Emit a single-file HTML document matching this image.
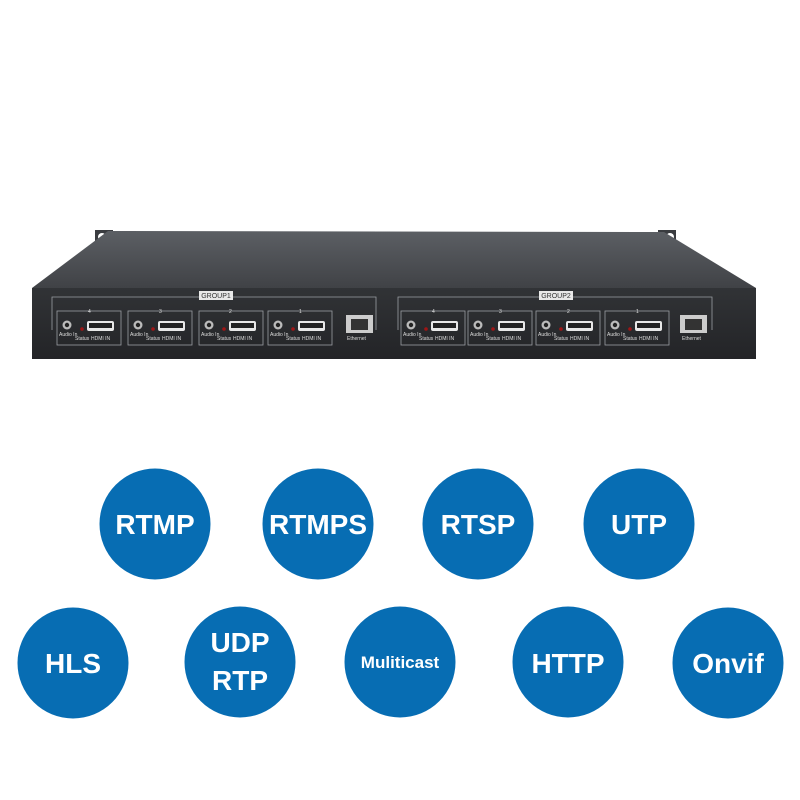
<!DOCTYPE html>
<html><head><meta charset="utf-8"><style>
html,body{margin:0;padding:0;background:#fff}
svg{display:block}
.t{font-family:"Liberation Sans",Arial,sans-serif;font-weight:bold;fill:#fff;text-anchor:middle}
.s{font-family:"Liberation Sans",Arial,sans-serif;fill:#ddd;font-size:5px}
</style></head><body>
<svg width="800" height="800" viewBox="0 0 800 800" xmlns="http://www.w3.org/2000/svg">
<defs>
<linearGradient id="top" x1="0" y1="0" x2="0" y2="1"><stop offset="0" stop-color="#5c5f64"/><stop offset="1" stop-color="#404246"/></linearGradient>
<linearGradient id="face" x1="0" y1="0" x2="0" y2="1"><stop offset="0" stop-color="#313336"/><stop offset="1" stop-color="#232427"/></linearGradient>
<g id="port">
 <rect x="0" y="0" width="64" height="34" fill="none" stroke="#9a9ea3" stroke-width="0.8"/>
 <circle cx="10" cy="14" r="4.5" fill="#bbb"/><circle cx="10" cy="14" r="2.2" fill="#222"/>
 <circle cx="25" cy="18" r="1.8" fill="#a01515"/>
 <rect x="30" y="10" width="27" height="10" rx="2" fill="#e8e8e8"/><rect x="32" y="12" width="23" height="5" fill="#222"/>
 <text class="s" x="2" y="25">Audio In</text><text class="s" x="18" y="29">Status</text><text class="s" x="34" y="29">HDMI IN</text>
</g>
</defs>
<rect x="95" y="230" width="18" height="16" fill="#3a3c40"/><circle cx="102" cy="237" r="4" fill="#fff"/>
<rect x="658" y="230" width="18" height="16" fill="#3a3c40"/><circle cx="670" cy="237" r="4" fill="#fff"/>
<polygon points="108,231 664,232 756,288 32,288" fill="url(#top)"/>
<rect x="32" y="288" width="724" height="71" fill="url(#face)"/>
<polyline points="52,330 52,297 376,297 376,330" fill="none" stroke="#9a9ea3" stroke-width="0.8"/>
<rect x="199" y="291" width="34" height="9" fill="#e8e8e8"/><text x="216" y="298" font-family="Liberation Sans" font-size="7" fill="#333" text-anchor="middle">GROUP1</text>
<use href="#port" x="57" y="311"/><use href="#port" x="128" y="311"/><use href="#port" x="199" y="311"/><use href="#port" x="268" y="311"/>
<text class="s" x="88" y="313">4</text>
<text class="s" x="159" y="313">3</text><text class="s" x="229" y="313">2</text><text class="s" x="299" y="313">1</text>
<rect x="346" y="315" width="27" height="18" fill="#ccc"/><rect x="351" y="319" width="17" height="11" fill="#333"/>
<text class="s" x="347" y="340">Ethernet</text>
<polyline points="398,330 398,297 712,297 712,330" fill="none" stroke="#9a9ea3" stroke-width="0.8"/>
<rect x="539" y="291" width="34" height="9" fill="#e8e8e8"/><text x="556" y="298" font-family="Liberation Sans" font-size="7" fill="#333" text-anchor="middle">GROUP2</text>
<use href="#port" x="401" y="311"/><use href="#port" x="468" y="311"/><use href="#port" x="536" y="311"/><use href="#port" x="605" y="311"/>
<text class="s" x="432" y="313">4</text><text class="s" x="499" y="313">3</text><text class="s" x="567" y="313">2</text><text class="s" x="636" y="313">1</text>
<rect x="680" y="315" width="27" height="18" fill="#ccc"/><rect x="685" y="319" width="17" height="11" fill="#333"/>
<text class="s" x="682" y="340">Ethernet</text>
<g fill="#076db3">
<circle cx="155" cy="524" r="55.5"/><circle cx="318" cy="524" r="55.5"/><circle cx="478" cy="524" r="55.5"/><circle cx="639" cy="524" r="55.5"/>
<circle cx="73" cy="663" r="55.5"/><circle cx="240" cy="662" r="55.5"/><circle cx="400" cy="662" r="55.5"/><circle cx="568" cy="662" r="55.5"/><circle cx="728" cy="663" r="55.5"/>
</g>
<text class="t" x="155" y="534" font-size="28">RTMP</text>
<text class="t" x="318" y="534" font-size="28">RTMPS</text>
<text class="t" x="478" y="534" font-size="28">RTSP</text>
<text class="t" x="639" y="534" font-size="28">UTP</text>
<text class="t" x="73" y="673" font-size="28">HLS</text>
<text class="t" x="240" y="652" font-size="28">UDP</text>
<text class="t" x="240" y="690" font-size="28">RTP</text>
<text class="t" x="400" y="668" font-size="17">Muliticast</text>
<text class="t" x="568" y="673" font-size="28">HTTP</text>
<text class="t" x="728" y="673" font-size="28">Onvif</text>
</svg>
</body></html>
